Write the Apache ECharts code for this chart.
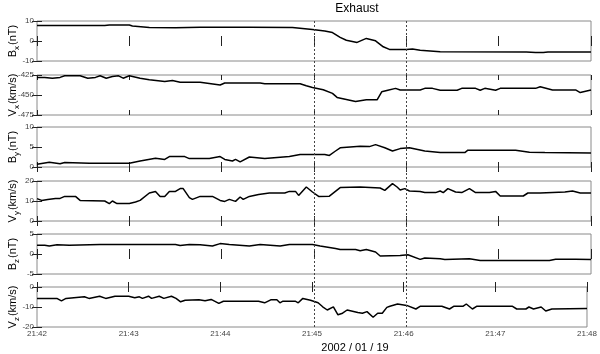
<!DOCTYPE html>
<html><head><meta charset="utf-8">
<script src="https://cdn.jsdelivr.net/npm/echarts@6/dist/echarts.min.js"></script>
<style>html,body{margin:0;padding:0;background:#fff}#c{width:600px;height:354px}</style>
</head><body><div id="c"></div>
<script>
// x tick labels (seconds from 21:42 -> label)
const tickLabels = ['21:42','21:43','21:44','21:45','21:46','21:47','21:48'];
const markTimes = [180, 240]; // 21:45 and 21:46 (dashed)

// Bx (nT)
const bxT = [0,44,47,60,62,73,90,106,138,166,179,187,192,197,201,208,214,220,225,229,240,244,249,262,318,324,329,332,360];
const bxV = [7.7,7.7,8.0,8.0,7.5,6.8,6.6,6.9,6.9,6.8,5.7,5.0,4.2,1.8,0.4,-0.7,1.3,0.1,-2.9,-4.2,-4.2,-4.0,-4.6,-5.4,-5.5,-5.8,-5.8,-5.5,-5.5];
// Vx (km/s)
const vxT = [0,5,10,15,18,28,33,38,41,45,49,53,56,60,67,73,83,88,93,106,119,122,145,148,171,175,179,186,192,195,207,214,221,224,228,233,236,249,252,257,262,273,276,285,288,291,298,301,324,327,335,350,353,360];
const vxV = [-428,-428,-429,-428,-426,-426,-429,-428,-426,-429,-427,-426,-429,-426,-429,-431,-433,-432,-434,-434,-437.5,-435,-435,-436,-436,-438.5,-440.5,-443.5,-448,-453,-458,-456,-456,-446,-444,-441.7,-443.7,-443.7,-441.7,-441.7,-444,-444,-441.7,-441.7,-444,-441.7,-444,-441.7,-441.7,-439.6,-443.7,-443.7,-447,-443.7];
// By (nT)
const byT = [0,8,15,18,34,60,67,77,83,86,96,99,112,119,122,127,129,132,138,148,164,171,187,190,194,197,210,216,220,226,231,236,242,252,262,278,280,311,320,330,360];
const byV = [0.7,1.2,0.8,1.1,0.95,0.95,1.5,2.2,1.9,2.6,2.6,2.1,2.1,2.6,1.9,1.5,1.9,1.3,2.5,2.1,2.6,3.15,3.15,2.9,4.0,4.8,5.2,5.1,5.6,4.8,4.0,4.6,4.8,4.0,3.6,3.6,4.2,4.2,3.7,3.6,3.5];
// Vy (km/s)
const vyT = [0,3,7,12,15,18,25,28,44,47,49,52,60,64,67,73,77,80,83,86,90,93,95,99,101,106,114,119,122,125,129,132,134,138,144,151,161,164,168,170,175,179,183,190,197,210,223,226,231,234,236,239,242,249,252,259,262,264,267,272,276,281,285,294,298,301,316,319,327,343,348,353,360];
const vyV = [11.2,10.3,10.8,11.2,11.3,12.3,12.3,10.3,10,8.7,10,8.7,8.7,9.5,10.3,14,14.8,12.3,12.3,14.8,14.8,16.2,16.2,11.7,10.8,12.3,12.3,10.3,9.8,10.8,9.8,12,10.8,12.3,13.3,14,14,14.8,14.8,12.8,17,14.5,12.3,12.4,16.7,17,16.5,15.3,18.7,17,15.5,16.2,15,14.8,14.2,14.2,15,14.2,16.2,14.5,14.2,16.2,14.2,14.2,14.8,12.5,12.5,14,14,14.5,15,14,14];
// Bz (nT)
const bzT = [0,5,8,13,21,41,90,93,99,106,114,119,125,138,145,158,164,179,184,194,197,207,210,214,220,223,236,241,249,252,262,265,281,288,333,337,350,360];
const bzV = [2.2,2.2,2.0,2.3,2.2,2.4,2.4,2.1,2.4,2.3,2.0,2.6,2.4,2.0,2.4,2.0,2.4,2.4,2.0,1.4,1.1,1.1,0.8,1.1,0.5,-0.5,-0.4,-0.2,-1.35,-1.0,-1.2,-1.4,-1.2,-1.6,-1.6,-1.3,-1.3,-1.4];
// Vz (km/s)
const vzT = [0,13,16,19,31,34,41,45,51,60,64,67,69,73,75,80,83,88,91,94,97,106,110,114,119,122,145,149,153,157,159,161,169,171,174,179,184,187,190,194,197,200,203,210,213,216,220,223,226,229,231,236,242,248,251,265,270,273,279,281,285,288,311,314,320,322,325,330,333,337,360];
const vzV = [-5.7,-5.7,-6.9,-5.7,-4.9,-5.7,-4.6,-5.7,-4.6,-4.6,-5.4,-4.9,-5.7,-4.6,-5.7,-4.6,-5.7,-4.6,-5.7,-7.4,-6.6,-6.4,-6.9,-6.2,-8.2,-7.1,-7.1,-7.9,-6.4,-6.4,-7.9,-7.1,-7.1,-7.9,-5.7,-6.6,-7.9,-9.9,-11.5,-9.9,-13.9,-13.1,-11.5,-12.8,-13.1,-12.3,-15.1,-13.1,-13.1,-10.2,-9.6,-8.5,-9.2,-11,-9.6,-9.6,-11,-9.6,-9.6,-8.5,-11,-9.6,-9.6,-11,-11,-10,-11,-10,-12,-11,-10.7];

const panelT = [bxT, vxT, byT, vyT, bzT, vzT];
const panelV = [bxV, vxV, byV, vyV, bzV, vzV];
const yMin = [-10, -475, 0, 0, -5, -20];
const yMax = [10, -425, 10, 20, 5, 0];
const yStep = [10, 25, 5, 10, 5, 10];
const nameMain = ['B', 'V', 'B', 'V', 'B', 'V'];
const nameSub = ['x', 'x', 'y', 'y', 'z', 'z'];
const nameUnit = ['(nT)', '(km/s)', '(nT)', '(km/s)', '(nT)', '(km/s)'];

const FONT = 'Liberation Sans, Arial, sans-serif';
const tops = [21, 75, 127, 181, 234, 287];
const H = 40, L = 37, R = 9;

const grids = [], xAxes = [], yAxes = [], series = [], graphics = [];
for (let i = 0; i < 6; i++) {
  grids.push({left: L, right: R, top: tops[i], height: H, show: true, borderColor: '#8a8a8a', borderWidth: 1, containLabel: false});
  const isLast = i === 5;
  const xBase = {
    type: 'value', gridIndex: i, min: 0, max: 360, interval: 60,
    axisLine: {show: false}, splitLine: {show: false},
    axisTick: {show: true, inside: true, length: 5, lineStyle: {color: '#222', width: 1}}
  };
  xAxes.push(Object.assign({}, xBase, {position: 'bottom',
    axisLabel: {show: isLast, fontSize: 8, color: '#444', fontFamily: FONT, margin: 3,
      formatter: v => tickLabels[Math.round(v / 60)], showMinLabel: true, showMaxLabel: true}}));
  xAxes.push(Object.assign({}, xBase, {position: 'top', axisLabel: {show: false}}));
  const yBase = {
    type: 'value', gridIndex: i, min: yMin[i], max: yMax[i], interval: yStep[i],
    axisLine: {show: false}, splitLine: {show: false},
    axisTick: {show: true, inside: true, length: 5, lineStyle: {color: '#222', width: 1}}
  };
  yAxes.push(Object.assign({}, yBase, {position: 'left',
    axisLabel: {show: true, fontSize: 8, color: '#444', fontFamily: FONT, margin: 3, showMinLabel: true, showMaxLabel: true}}));
  yAxes.push(Object.assign({}, yBase, {position: 'right', axisLabel: {show: false}}));
  series.push({
    type: 'line', xAxisIndex: 2 * i, yAxisIndex: 2 * i, showSymbol: false, symbol: 'none',
    lineStyle: {color: '#000', width: 1.5}, animation: false,
    data: panelT[i].map((t, k) => [t, panelV[i][k]])
  });
  graphics.push({
    type: 'text', x: 13, y: tops[i] + H / 2, rotation: Math.PI / 2,
    style: {
      text: '{b|' + nameMain[i] + '}{s|' + nameSub[i] + '}{b|' + nameUnit[i] + '}',
      align: 'center', verticalAlign: 'middle',
      rich: {
        b: {fontSize: 11, fontFamily: FONT, fill: '#000', lineHeight: 16},
        s: {fontSize: 8, fontFamily: FONT, fill: '#000', verticalAlign: 'bottom', padding: [0, 1, 0, 0]}
      }
    }
  });
}
graphics.push({type: 'text', x: 357, y: 9, style: {text: 'Exhaust', fontSize: 12, fontFamily: FONT, fill: '#000', align: 'center', verticalAlign: 'middle'}});
graphics.push({type: 'text', x: 355, y: 348, style: {text: '2002 / 01 / 19', fontSize: 11, fontFamily: FONT, fill: '#000', align: 'center', verticalAlign: 'middle'}});

const chart = echarts.init(document.getElementById('c'), null, {renderer: 'canvas'});
chart.setOption({animation: false, backgroundColor: '#fff', grid: grids, xAxis: xAxes, yAxis: yAxes, series: series, graphic: graphics});

// dashed vertical markers through all panels, positioned through the axis scale
const yTop = tops[0], yBot = tops[5] + H;
markTimes.forEach(t => {
  const px = Math.round(chart.convertToPixel({xAxisIndex: 0}, t)) + 0.5;
  graphics.push({type: 'line', z: 10, shape: {x1: px, y1: yTop, x2: px, y2: yBot},
    style: {stroke: '#444', lineWidth: 1, lineDash: [2, 2]}});
});
chart.setOption({graphic: graphics});
</script></body></html>
